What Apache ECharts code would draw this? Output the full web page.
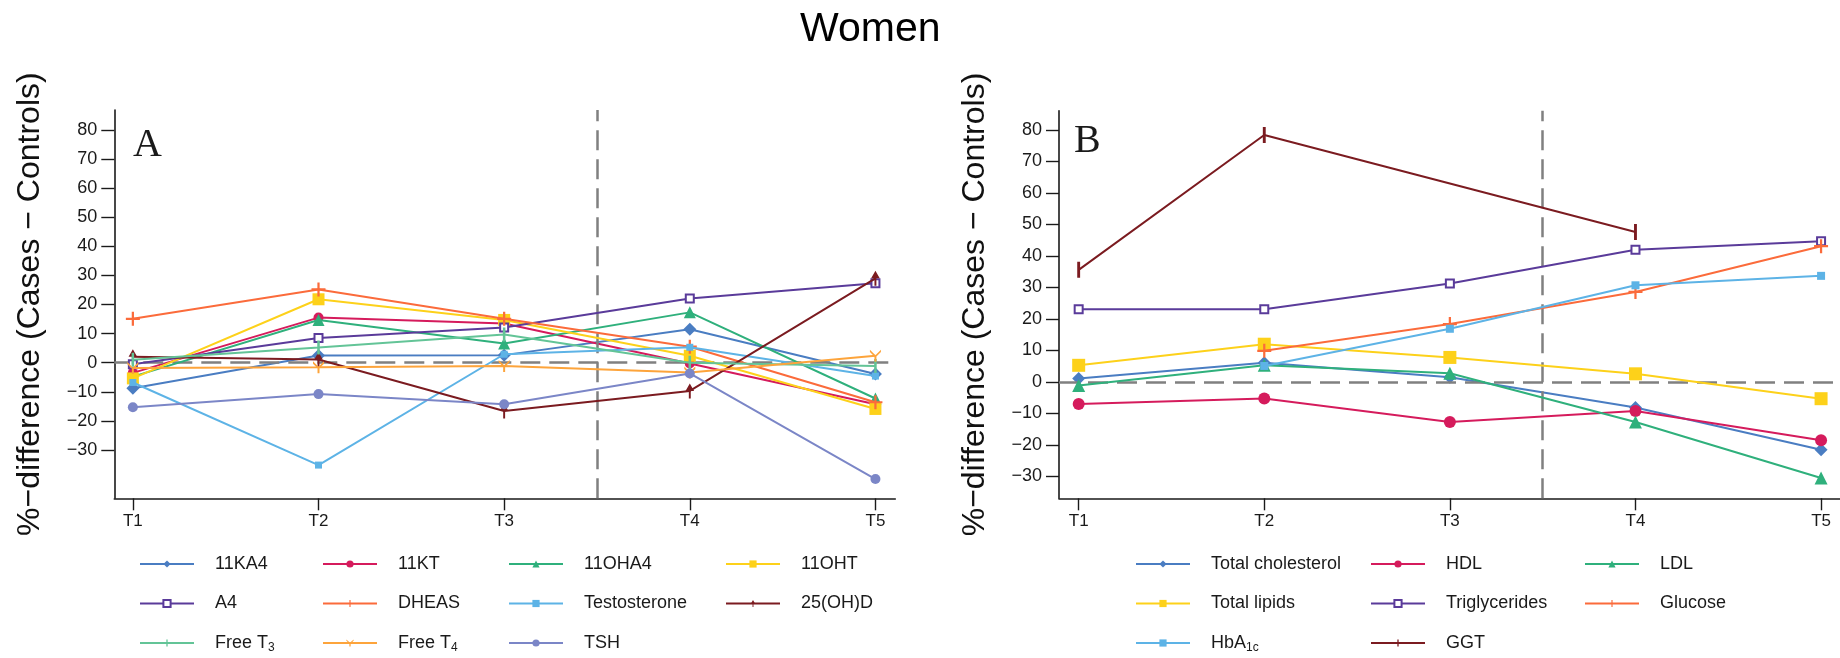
<!DOCTYPE html>
<html>
<head>
<meta charset="utf-8">
<script src="https://cdn.jsdelivr.net/npm/echarts@6/dist/echarts.min.js"></script>
<style>
  html, body { margin: 0; padding: 0; background: #fff; }
  #chart { width: 1840px; height: 658px; }
</style>
</head>
<body>
<div id="chart"></div>
<script>
// ---------------- data ----------------
const timepoints = ['T1', 'T2', 'T3', 'T4', 'T5'];
const yTickValues = [-30, -20, -10, 0, 10, 20, 30, 40, 50, 60, 70, 80];

// Panel A (hormones)
const namesA = ['11KA4', '11KT', '11OHA4', '11OHT', 'A4', 'DHEAS', 'Testosterone', '25(OH)D', 'Free T3', 'Free T4', 'TSH'];
const v11KA4        = [-8.8, 2.5, 2.6, 11.5, -3.9];
const v11KT         = [-3.5, 15.5, 13.5, -0.3, -14.3];
const v11OHA4       = [-4.8, 14.7, 6.6, 17.3, -12.3];
const v11OHT        = [-5.4, 21.8, 14.7, 2.4, -15.9];
const vA4           = [-0.5, 8.5, 12.1, 22.1, 27.3];
const vDHEAS        = [15.1, 25.2, 15.1, 5.5, -13.6];
const vTestosterone = [-6.8, -35.2, 2.9, 5.3, -4.6];
const v25OHD        = [2.0, 1.1, -16.6, -9.7, 29.0];
const vFreeT3       = [1.0, 5.2, 9.7, 0.0, -1.1];
const vFreeT4       = [-1.8, -1.6, -1.1, -3.4, 2.4];
const vTSH          = [-15.3, -10.8, -14.3, -3.7, -40.0];

// Panel B (metabolic markers)
const namesB = ['Total cholesterol', 'HDL', 'LDL', 'Total lipids', 'Triglycerides', 'Glucose', 'HbA1c', 'GGT'];
const vTotalChol    = [1.1, 6.1, 1.5, -8.1, -21.5];
const vHDL          = [-7.0, -5.2, -12.7, -9.2, -18.5];
const vLDL          = [-1.1, 5.3, 2.8, -12.7, -30.5];
const vTotalLipids  = [5.3, 12.0, 7.8, 2.6, -5.3];
const vTriglycerides= [23.1, 23.1, 31.3, 42.0, 44.7];
const vGlucose      = [null, 9.9, 18.4, 28.6, 43.1];
const vHbA1c        = [null, 5.1, 16.9, 30.7, 33.7];
const vGGT          = [35.6, 78.4, null, 47.6, null];

// ---------------- styles ----------------
const FONT = 'Liberation Sans, Arial, sans-serif';
const C = {
  blue: '#4a7dc2', crimson: '#d51b5c', green: '#2fb07c', yellow: '#fdd11a',
  purple: '#5a3b9a', orange: '#fb6b3b', lightblue: '#5db3e6', darkred: '#7b1b20',
  mint: '#63c497', amber: '#fda43b', lavender: '#7b86c7'
};
// custom marker shapes (square bounding boxes so they scale evenly everywhere)
const PLUS  = 'path://M4.2,0H5.8V4.2H10V5.8H5.8V10H4.2V5.8H0V4.2H4.2Z';
const PIPE  = 'path://M0,0L0.01,0L0,0.01ZM4.1,0H5.9V10H4.1ZM10,10L9.99,10L10,9.99Z';
const SPIKE = 'path://M0,0L0.01,0L0,0.01ZM7,0L11,7H7.9V14H6.1V7H3ZM14,14L13.99,14L14,13.99Z';
const YSYM  = 'path://M0,0L5,5L10,0V2.2L5.9,6.3V11H4.1V6.3L0,2.2Z';

const styleA = [
  [C.blue, 'diamond', 13], [C.crimson, 'circle', 10], [C.green, 'triangle', 12], [C.yellow, 'rect', 12],
  [C.purple, 'emptyRect', 8], [C.orange, PLUS, 14], [C.lightblue, 'rect', 7], [C.darkred, SPIKE, 15],
  [C.mint, PIPE, 14], [C.amber, YSYM, [11, 12]], [C.lavender, 'circle', 10]
];
const styleB = [
  [C.blue, 'diamond', 13], [C.crimson, 'circle', 12], [C.green, 'triangle', 13], [C.yellow, 'rect', 13],
  [C.purple, 'emptyRect', 8], [C.orange, PLUS, 14], [C.lightblue, 'rect', 8], [C.darkred, PIPE, 16]
];
const valuesA = [v11KA4, v11KT, v11OHA4, v11OHT, vA4, vDHEAS, vTestosterone, v25OHD, vFreeT3, vFreeT4, vTSH];
const valuesB = [vTotalChol, vHDL, vLDL, vTotalLipids, vTriglycerides, vGlucose, vHbA1c, vGGT];

function toPairs(vals) { return vals.map((v, i) => [i + 1, v]); }

function makeSeries(names, values, styles, gi) {
  return names.map((n, i) => ({
    type: 'line', name: n, xAxisIndex: gi, yAxisIndex: gi,
    data: toPairs(values[i]), connectNulls: true,
    symbol: styles[i][1], symbolSize: styles[i][2],
    lineStyle: { color: styles[i][0], width: 2 },
    itemStyle: { color: styles[i][0], borderColor: styles[i][0], borderWidth: styles[i][1] === 'emptyRect' ? 2 : 0 },
    z: 3 + i
  }));
}

function refSeries(gi) {
  return {
    type: 'line', xAxisIndex: gi, yAxisIndex: gi, data: [], silent: true, z: 1,
    markLine: {
      silent: true, symbol: 'none', animation: false,
      label: { show: false },
      lineStyle: { color: '#808080', width: 2.5, type: [20, 9] },
      data: [{ yAxis: 0 }, { xAxis: 3.5 }]
    }
  };
}

const xAxisBase = (gi, min, max) => ({
  type: 'value', gridIndex: gi, min: min, max: max,
  axisLine: { show: true, onZero: false, lineStyle: { color: '#1a1a1a', width: 1.6 } },
  axisTick: { show: true, length: 12, customValues: [1, 2, 3, 4, 5], lineStyle: { color: '#1a1a1a', width: 1.4 } },
  axisLabel: { customValues: [1, 2, 3, 4, 5], formatter: v => timepoints[Math.round(v) - 1],
               margin: 15, fontSize: 17, color: '#1a1a1a', fontFamily: FONT },
  splitLine: { show: false }
});
const yAxisBase = (gi, min, max) => ({
  type: 'value', gridIndex: gi, min: min, max: max,
  name: '%\u2212difference (Cases \u2212 Controls)', nameLocation: 'middle', nameGap: 68,
  nameTextStyle: { fontSize: 32, color: '#111', fontFamily: FONT },
  axisLine: { show: true, onZero: false, lineStyle: { color: '#1a1a1a', width: 1.6 } },
  axisTick: { show: true, length: 13, customValues: yTickValues, lineStyle: { color: '#1a1a1a', width: 1.4 } },
  axisLabel: { customValues: yTickValues, formatter: v => String(v).replace('-', '\u2212'),
               margin: 17, fontSize: 18, color: '#1a1a1a', fontFamily: FONT },
  splitLine: { show: false }
});

// legends: one per item, in a table layout
const richSub = { sub: { fontSize: 12, fontFamily: FONT, color: '#1a1a1a', padding: [9, 0, 0, 0] } };
function legendLabel(name) {
  if (name === 'Free T3') return 'Free T{sub|3}';
  if (name === 'Free T4') return 'Free T{sub|4}';
  if (name === 'HbA1c') return 'HbA{sub|1c}';
  return name;
}
function makeLegends(names, colX, rowY) {
  return names.map((n, i) => ({
    data: [n], orient: 'horizontal', padding: 0, selectedMode: false,
    left: colX[i % colX.length], top: rowY[Math.floor(i / colX.length)] - 9,
    itemWidth: 54, itemHeight: 9,
    formatter: legendLabel,
    textStyle: { fontSize: 18, color: '#1a1a1a', fontFamily: FONT, padding: [0, 0, 0, 16], rich: richSub }
  }));
}
const rowY = [564, 603.5, 643];
const legends = [].concat(
  makeLegends(namesA, [139, 322, 508, 725], rowY),
  makeLegends(namesB, [1135, 1370, 1584], rowY)
);

const option = {
  animation: false,
  backgroundColor: '#ffffff',
  textStyle: { fontFamily: FONT },
  title: [
    { text: 'Women', left: 795, top: 4, textStyle: { fontSize: 41, fontWeight: 'normal', color: '#000', fontFamily: FONT } },
    { text: 'A', left: 128, top: 120, textStyle: { fontSize: 40, fontWeight: 'normal', color: '#1a1a1a', fontFamily: 'Liberation Serif, Times New Roman, serif' } },
    { text: 'B', left: 1069, top: 116, textStyle: { fontSize: 40, fontWeight: 'normal', color: '#1a1a1a', fontFamily: 'Liberation Serif, Times New Roman, serif' } }
  ],
  grid: [
    { left: 114.3, top: 110, width: 781, height: 388.3 },
    { left: 1059, top: 110.7, width: 781, height: 387.6 }
  ],
  xAxis: [xAxisBase(0, 0.9, 5.107), xAxisBase(1, 0.894, 5.102)],
  yAxis: [yAxisBase(0, -46.62, 86.87), yAxisBase(1, -36.92, 86.13)],
  legend: legends,
  series: [].concat(
    [refSeries(0), refSeries(1)],
    makeSeries(namesA, valuesA, styleA, 0),
    makeSeries(namesB, valuesB, styleB, 1)
  )
};

const chart = echarts.init(document.getElementById('chart'), null, { renderer: 'canvas' });
chart.setOption(option);
</script>
</body>
</html>
